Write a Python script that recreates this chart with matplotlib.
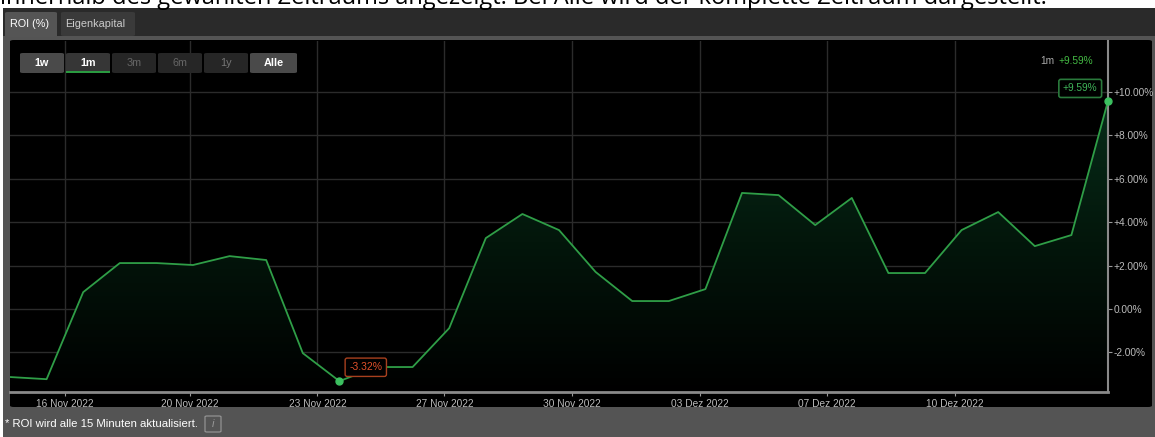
import numpy as np
import matplotlib.pyplot as plt
from matplotlib.patches import Rectangle, FancyBboxPatch
from matplotlib.colors import LinearSegmentedColormap

# ROI values (%) per data point
roi = [-3.13, -3.23, 0.78, 2.12, 2.12, 2.03, 2.44, 2.26, -2.03, -3.32,
       -2.67, -2.67, -0.88, 3.27, 4.38, 3.64, 1.71, 0.37, 0.37, 0.92,
       5.35, 5.25, 3.87, 5.12, 1.66, 1.66, 3.64, 4.47, 2.90, 3.41, 9.59]
date_labels = ['16 Nov 2022', '20 Nov 2022', '23 Nov 2022', '27 Nov 2022',
               '30 Nov 2022', '03 Dez 2022', '07 Dez 2022', '10 Dez 2022']
date_pos = [1.50, 4.92, 8.40, 11.87, 15.35, 18.85, 22.32, 25.82]
y_ticks = [-2, 0, 2, 4, 6, 8, 10]
buttons = ['1w', '1m', '3m', '6m', '1y', 'Alle']

W, H = 1155, 437
fig = plt.figure(figsize=(W / 100, H / 100), dpi=100, facecolor='white')
plt.rcParams['font.family'] = ['Liberation Sans', 'DejaVu Sans']


def box(x0, y0, x1, y1, color, r=0, z=-2, **kw):
    # pixel coords from top-left
    if r:
        p = FancyBboxPatch((x0 / W, 1 - y1 / H), (x1 - x0) / W, (y1 - y0) / H,
                           boxstyle=f'round,pad=0,rounding_size={r / W}',
                           transform=fig.transFigure, facecolor=color, zorder=z, **kw)
    else:
        p = Rectangle((x0 / W, 1 - y1 / H), (x1 - x0) / W, (y1 - y0) / H,
                      transform=fig.transFigure, facecolor=color, zorder=z, **kw)
    fig.add_artist(p)


def txt(x, y, s, **kw):
    fig.text(x / W, 1 - y / H, s, zorder=6, **kw)


# cropped sentence at the very top
txt(0, 4, 'innerhalb des gewählten Zeitraums angezeigt. Bei Alle wird der komplette Zeitraum dargestellt.',
    fontsize=17, family='Open Sans', color='black', va='baseline')

# widget frame
box(3, 8, W, H, '#545454', lw=0)
box(3, 8, W, 36, '#2a2a2a', lw=0)
box(5, 12, 57, 37, '#555555', r=3, lw=0)
box(61, 12, 135, 36, '#3a3a3a', r=3, lw=0)
txt(10, 24, 'ROI (%)', fontsize=7.8, color='white', va='center')
txt(65, 24, 'Eigenkapital', fontsize=7.8, color='#cccccc', va='center')
box(10, 40, 1152, 407, 'black', r=4, lw=0)

# chart
ax = fig.add_axes([10 / W, 1 - 392 / H, (1108 - 10) / W, (392 - 41) / H])
ax.set_zorder(0)
ax.set_facecolor('black')
x = np.arange(len(roi))
ax.set_xlim(0, len(roi) - 1)
ax.set_ylim(-3.82, 12.35)

for yt in y_ticks:
    ax.axhline(yt, color='#2b2b2b', lw=1, zorder=0)
for xt in date_pos:
    ax.axvline(xt, color='#2b2b2b', lw=1, zorder=0)

poly = ax.fill_between(x, roi, -3.82, color='none')
cmap = LinearSegmentedColormap.from_list('g', ['#000000', '#03160b', '#072e1a'])
grad = np.linspace(0, 1, 256).reshape(-1, 1)
im = ax.imshow(grad, aspect='auto', cmap=cmap, origin='lower',
               extent=[0, len(roi) - 1, -3.82, 10], zorder=1)
im.set_clip_path(poly.get_paths()[0], transform=ax.transData)
ax.plot(x, roi, color='#2f9e47', lw=1.3, zorder=3)

imin = int(np.argmin(roi))
ax.plot(imin, roi[imin], 'o', color='#3cc060', ms=5, zorder=4)
ax.plot(len(roi) - 1, roi[-1], 'o', color='#3cc060', ms=5, zorder=4, clip_on=False)
ax.annotate(f'{roi[imin]:.2f}%', (imin, roi[imin]), xytext=(19, 10), textcoords='offset points',
            ha='center', va='center', fontsize=7.5, color='#e0502a', zorder=5,
            bbox=dict(boxstyle='round,pad=0.4,rounding_size=0.2', fc='black', ec='#a8401e', lw=1))
ax.annotate(f'+{roi[-1]:.2f}%', (len(roi) - 1, roi[-1]), xytext=(-20, 9), textcoords='offset points',
            ha='center', va='center', fontsize=7.3, color='#3fb559', zorder=5,
            bbox=dict(boxstyle='round,pad=0.4,rounding_size=0.2', fc='black', ec='#2a7a3c', lw=1.2))

ax.yaxis.tick_right()
ax.set_yticks(y_ticks)
ax.set_yticklabels([('+' if v > 0 else '') + f'{v:.2f}%' for v in y_ticks])
ax.set_xticks(date_pos)
ax.set_xticklabels(date_labels)
ax.tick_params(axis='y', colors='#999999', labelcolor='#bbbbbb', labelsize=7.3, length=3, pad=1)
ax.tick_params(axis='x', colors='#999999', labelcolor='#bbbbbb', labelsize=7.3, length=3, pad=2)
for s in ['top', 'left']:
    ax.spines[s].set_visible(False)
ax.spines['bottom'].set_color('#8a8a8a')
ax.spines['bottom'].set_linewidth(2)
ax.spines['right'].set_color('#8a8a8a')
ax.spines['right'].set_linewidth(1.5)

# range buttons
bx = [(20, 64), (66, 110), (112, 156), (158, 202), (204, 248), (250, 297)]
bcol = ['#4a4a4a', '#363636', '#262626', '#262626', '#262626', '#4a4a4a']
tcol = ['white', 'white', '#666666', '#666666', '#777777', 'white']
for (x0, x1), b, fc, tc in zip(bx, buttons, bcol, tcol):
    box(x0, 53, x1, 73, fc, r=3, z=5, lw=0)
    txt((x0 + x1) / 2, 63, b, fontsize=7.8, color=tc, ha='center', va='center',
        weight='bold' if tc == 'white' else 'normal')
box(66, 71.5, 110, 73, '#2a9a40', z=5, lw=0)

# top right summary
txt(1054, 61, '1m', fontsize=7.3, color='#aaaaaa', ha='right', va='center')
txt(1058, 61, f'+{roi[-1]:.2f}%', fontsize=7.3, color='#44bb44', ha='left', va='center')

# footer
txt(5, 424, '* ROI wird alle 15 Minuten aktualisiert.', fontsize=8.2, color='white', va='center')
box(205, 416, 221, 432, 'none', r=2, z=5, ec='#999999', lw=0.8)
txt(213, 424, 'i', fontsize=8, color='#999999', ha='center', va='center', style='italic')

fig.savefig('out.png', dpi=100, facecolor='white')
